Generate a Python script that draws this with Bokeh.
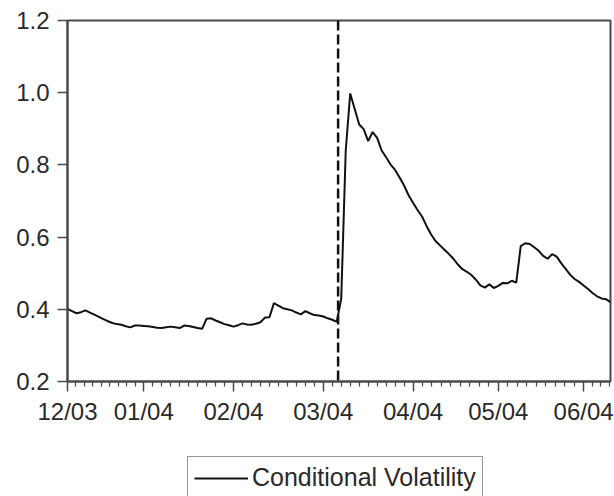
from bokeh.plotting import figure
from bokeh.layouts import column
from bokeh.models import Range1d, FixedTicker, Span, Legend, LegendItem, ColumnDataSource, PrintfTickFormatter
from bokeh.embed import file_html
from bokeh.resources import INLINE

# ---- data ----
month_labels = ["12/03", "01/04", "02/04", "03/04", "04/04", "05/04", "06/04"]
month_start_obs = [0, 17, 37, 57, 77, 96, 115]
minor_per_month = [8, 9, 9, 9, 8, 8, 3]
last_minor_step = 1.9
event_obs = 60.3
y_ticks = [0.2, 0.4, 0.6, 0.8, 1.0, 1.2]
series_name = "Conditional Volatility"

volatility = [
    0.401, 0.395, 0.389, 0.392, 0.397, 0.391, 0.385, 0.379, 0.373, 0.367,
    0.362, 0.359, 0.357, 0.353, 0.350, 0.355, 0.355, 0.354, 0.353, 0.351,
    0.349, 0.348, 0.350, 0.352, 0.350, 0.348, 0.355, 0.354, 0.351, 0.348,
    0.346, 0.374, 0.375, 0.369, 0.364, 0.359, 0.356, 0.352, 0.356, 0.361,
    0.358, 0.357, 0.360, 0.364, 0.377, 0.378, 0.417, 0.410, 0.403, 0.400,
    0.397, 0.391, 0.386, 0.395, 0.389, 0.384, 0.383, 0.380, 0.375, 0.371,
    0.365, 0.430, 0.840, 0.998, 0.955, 0.912, 0.899, 0.866, 0.891, 0.875,
    0.840, 0.821, 0.801, 0.786, 0.765, 0.743, 0.716, 0.695, 0.675, 0.657,
    0.631, 0.608, 0.589, 0.577, 0.565, 0.553, 0.540, 0.524, 0.511, 0.504,
    0.495, 0.482, 0.466, 0.460, 0.469, 0.459, 0.465, 0.473, 0.472, 0.479,
    0.474, 0.575, 0.583, 0.581, 0.572, 0.562, 0.548, 0.540, 0.553, 0.546,
    0.528, 0.512, 0.496, 0.484, 0.476, 0.466, 0.456, 0.445, 0.436, 0.430,
    0.428, 0.420,
]
obs = list(range(len(volatility)))

# minor tick positions between month starts
minor_ticks = []
for i, n in enumerate(minor_per_month):
    start = month_start_obs[i]
    if i + 1 < len(month_start_obs):
        step = (month_start_obs[i + 1] - start) / (n + 1)
    else:
        step = last_minor_step
    minor_ticks += [start + step * (k + 1) for k in range(n)]

FONT = "Liberation Sans"
AXC = "#4a4a4a"
TXT = "#2a2a2a"
LINE = "#111111"

p = figure(width=614, height=440, output_backend="svg", toolbar_location=None,
           x_range=Range1d(0, len(volatility) - 1), y_range=Range1d(0.2, 1.2),
           min_border_left=67, min_border_right=4, min_border_top=20, min_border_bottom=59)
p.background_fill_color = "white"
p.border_fill_color = "white"
p.outline_line_color = AXC
p.outline_line_width = 2
p.grid.visible = False

src = ColumnDataSource(dict(x=obs, y=volatility))
r = p.line("x", "y", source=src, line_color=LINE, line_width=2)

p.add_layout(Span(location=event_obs, dimension="height", line_color=LINE,
                  line_width=2.5, line_dash="10 4"))

# x axis
xa = p.xaxis[0]
xa.ticker = FixedTicker(ticks=month_start_obs, minor_ticks=minor_ticks)
xa.major_label_overrides = {m: l for m, l in zip(month_start_obs, month_labels)}
xa.major_tick_in = 0
xa.major_tick_out = 10
xa.minor_tick_in = 0
xa.minor_tick_out = 5
xa.major_label_standoff = 6

# y axis
ya = p.yaxis[0]
ya.ticker = FixedTicker(ticks=y_ticks, minor_ticks=[])
ya.formatter = PrintfTickFormatter(format="%.1f")
ya.major_tick_in = 0
ya.major_tick_out = 10
ya.major_label_standoff = 8

for ax in (xa, ya):
    ax.axis_line_color = AXC
    ax.axis_line_width = 2
    ax.major_tick_line_color = AXC
    ax.major_tick_line_width = 1.5
    ax.minor_tick_line_color = AXC
    ax.minor_tick_line_width = 1.2
    ax.major_label_text_font = FONT
    ax.major_label_text_font_size = "24px"
    ax.major_label_text_color = TXT

# legend strip below the chart (its series lies outside its own view, only the key shows)
lp = figure(width=614, height=56, output_backend="svg", toolbar_location=None,
            x_axis_location=None, y_axis_location=None,
            x_range=Range1d(0, len(volatility) - 1), y_range=Range1d(10, 11), min_border=0)
lp.grid.visible = False
lp.outline_line_color = None
lp.background_fill_color = "white"
lp.border_fill_color = "white"
key = lp.line("x", "y", source=src, line_color=LINE, line_width=2)

legend = Legend(items=[LegendItem(label=series_name, renderers=[key])],
                location=(120, -3), orientation="horizontal")
legend.label_text_font = FONT
legend.label_text_font_size = "25px"
legend.label_text_color = TXT
legend.border_line_color = "#333333"
legend.border_line_width = 1.5
legend.background_fill_alpha = 1.0
legend.padding = 6
legend.margin = 0
legend.glyph_width = 54
legend.label_standoff = 4
lp.add_layout(legend, "center")

open("out.html", "w").write(file_html(column(p, lp, spacing=0), INLINE))
